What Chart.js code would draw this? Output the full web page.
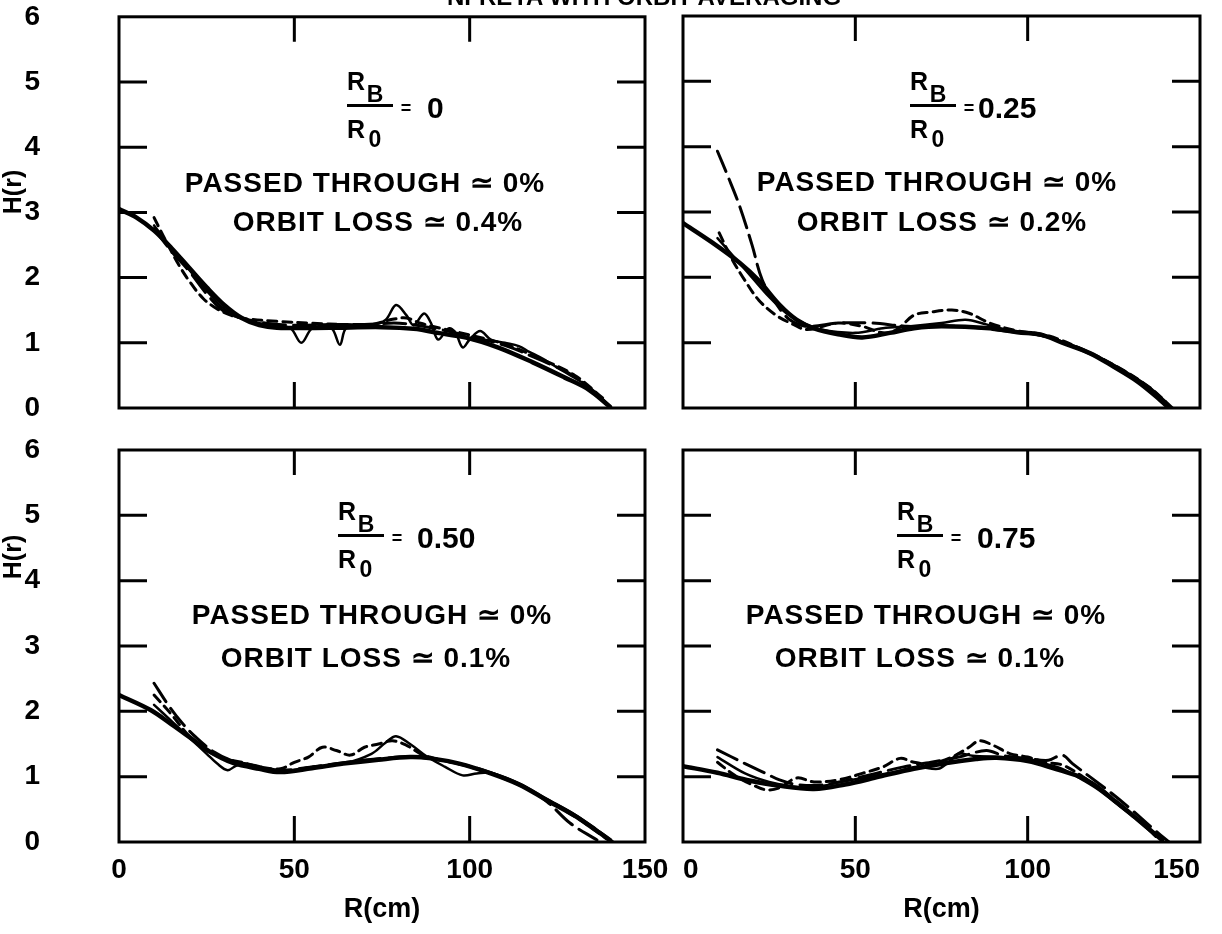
<!DOCTYPE html>
<html>
<head>
<meta charset="utf-8">
<script src="https://cdn.jsdelivr.net/npm/chart.js@4.4.1/dist/chart.umd.min.js"></script>
<style>
  html, body { margin: 0; padding: 0; background: #fff; }
  #page { position: relative; width: 1222px; height: 934px; overflow: hidden; background: #fff; }
  canvas { position: absolute; }
  .t { position: absolute; font-family: "Liberation Sans", Arial, sans-serif; font-weight: bold; color: #000;
       white-space: nowrap; line-height: 1; transform: translate(-50%, -50%); }
  .l { position: absolute; font-family: "Liberation Sans", Arial, sans-serif; font-weight: bold; color: #000;
       white-space: nowrap; line-height: 1; transform: translateY(-50%); }
  .bar { position: absolute; height: 3px; background: #000; }
</style>
</head>
<body>
<div id="page">
  <canvas id="tl" width="670" height="430" style="left:0;top:0"></canvas>
  <canvas id="tr" width="552" height="430" style="left:670px;top:0"></canvas>
  <canvas id="bl" width="670" height="504" style="left:0;top:430px"></canvas>
  <canvas id="br" width="552" height="504" style="left:670px;top:430px"></canvas>
</div>
<script>
// axis ticks
const X_TICKS = [0, 50, 100, 150];
const Y_TICKS = [0, 1, 2, 3, 4, 5, 6];

// R_B/R_0 = 0
const tlThick = [[0,3.05],[5,2.92],[10,2.72],[15,2.45],[20,2.15],[25,1.85],[30,1.58],[35,1.38],[40,1.27],[45,1.23],[60,1.23],[75,1.24],[85,1.21],[90,1.16],[99,1.08],[108,0.93],[118,0.70],[127,0.47],[134,0.28],[140,0.02]];
const tlThin = [[10,2.8],[15,2.45],[20,2.12],[25,1.8],[30,1.52],[35,1.38],[40,1.3],[45,1.27],[49,1.22],[52,1.0],[55,1.22],[59,1.26],[61,1.2],[63,0.97],[65,1.24],[72,1.27],[76,1.35],[79,1.58],[82,1.42],[84,1.27],[87,1.45],[89,1.3],[91,1.05],[94,1.22],[96,1.15],[98,0.93],[100,1.05],[103,1.18],[106,1.05],[110,1.0],[114,0.95],[117,0.86],[120,0.78],[125,0.62],[130,0.46],[135,0.28],[140,0.03]];
const tlDash = [[10,2.92],[13,2.6],[17,2.2],[20,1.95],[24,1.68],[28,1.52],[32,1.42],[36,1.37],[45,1.33],[55,1.3],[65,1.28],[72,1.28],[78,1.36],[82,1.38],[86,1.3],[92,1.22],[100,1.12],[110,0.98],[120,0.76],[130,0.5],[138,0.15]];
const tlLong = [[10,2.75],[15,2.4],[20,2.1],[25,1.75],[30,1.48],[35,1.38],[42,1.3],[50,1.27],[60,1.28],[70,1.28],[80,1.3],[90,1.22],[100,1.1],[110,0.96],[120,0.74],[130,0.48],[138,0.12]];

// R_B/R_0 = 0.25
const trThick = [[0,2.83],[8,2.55],[16.5,2.22],[22,1.95],[28,1.58],[33,1.35],[38,1.22],[45,1.13],[52,1.08],[60,1.15],[67,1.22],[75,1.25],[89,1.22],[97,1.16],[104,1.12],[110,1.0],[118,0.84],[125,0.63],[132,0.4],[138.5,0.12],[141,0]];
const trThin = [[10,2.6],[15,2.3],[20,2.0],[25,1.7],[30,1.45],[35,1.3],[40,1.2],[50,1.15],[58,1.22],[66,1.25],[75,1.3],[82,1.35],[88,1.28],[95,1.18],[102,1.13],[108,1.05],[115,0.92],[125,0.66],[135,0.33],[140,0.1]];
const trDash = [[10.5,2.68],[14,2.3],[18,1.95],[22,1.65],[27,1.42],[32,1.28],[36,1.2],[45,1.3],[52,1.25],[58,1.15],[62,1.2],[67,1.42],[72,1.47],[78,1.5],[83,1.45],[89,1.3],[97,1.18],[105,1.12],[115,0.92],[125,0.66],[135,0.33],[142,0]];
const trLong = [[10,3.93],[13,3.55],[16.5,3.08],[20,2.5],[23,1.96],[27,1.6],[31,1.35],[36,1.25],[45,1.3],[55,1.3],[65,1.25],[80,1.25],[95,1.17],[105,1.1],[115,0.9],[125,0.65],[135,0.32],[141,0.02]];

// R_B/R_0 = 0.50
const blThick = [[0,2.25],[9,2.02],[15,1.8],[20,1.61],[26,1.38],[32.5,1.21],[40,1.12],[46,1.07],[55,1.13],[64,1.2],[74,1.26],[83,1.3],[89,1.28],[97,1.2],[106,1.05],[114,0.88],[122,0.64],[130,0.4],[136,0.18],[140,0.03]];
const blThin = [[10,2.1],[15,1.85],[20,1.6],[25,1.35],[28,1.2],[31,1.1],[34,1.18],[40,1.13],[46,1.08],[55,1.15],[64,1.2],[72,1.35],[76,1.52],[79,1.62],[83,1.5],[88,1.3],[93,1.15],[98,1.02],[102,1.05],[106,1.06],[114,0.9],[122,0.66],[130,0.42],[136,0.2],[141,0]];
const blDash = [[10,2.25],[15,1.95],[20,1.62],[25,1.4],[30,1.28],[35,1.22],[40,1.15],[46,1.12],[50,1.22],[54,1.3],[58,1.45],[62,1.4],[66,1.33],[70,1.45],[74,1.5],[78,1.55],[82,1.48],[86,1.35],[90,1.28],[98,1.18],[106,1.05],[115,0.85],[124,0.58],[132,0.32],[139,0.05]];
const blLong = [[10,2.43],[14,2.1],[18,1.82],[22,1.6],[27,1.38],[32,1.25],[38,1.18],[46,1.1],[55,1.15],[65,1.22],[75,1.28],[85,1.3],[95,1.22],[105,1.08],[115,0.86],[122,0.62],[128.6,0.29],[136.3,0.03]];

// R_B/R_0 = 0.75
const brThick = [[0,1.16],[10,1.06],[18.5,0.95],[28,0.86],[38,0.81],[47,0.88],[57,1.0],[67,1.12],[76.5,1.21],[85,1.27],[91,1.29],[100,1.24],[108,1.12],[115,1.0],[120,0.85],[125,0.64],[130,0.43],[134.5,0.23],[139,0.03]];
const brThin = [[10,1.3],[18,1.05],[25,0.92],[32,0.85],[38,0.84],[46,0.92],[54,1.0],[62,1.08],[68,1.15],[74,1.12],[77,1.22],[80,1.35],[84,1.32],[92,1.3],[100,1.27],[105,1.2],[110,1.12],[115,0.98],[120,0.82],[126,0.58],[132,0.33],[137,0.1]];
const brDash = [[10,1.22],[15,1.02],[20,0.88],[24,0.8],[28,0.83],[33,0.98],[38,0.92],[45,0.95],[52,1.05],[58,1.15],[63,1.28],[67,1.22],[72,1.2],[78,1.3],[83,1.45],[86,1.55],[90,1.48],[95,1.35],[100,1.3],[105,1.22],[110,1.18],[116,1.0],[122,0.78],[128,0.52],[134,0.25],[138,0.04]];
const brLong = [[10,1.41],[18,1.2],[24,1.05],[28,0.95],[33,0.88],[40,0.87],[48,0.95],[56,1.05],[64,1.15],[72,1.22],[80,1.3],[88,1.4],[93,1.32],[100,1.28],[106,1.25],[110,1.33],[113,1.2],[118,1.0],[124,0.76],[130,0.5],[136,0.22],[141,0]];

// panel texts
const ratios = ["0", "0.25", "0.50", "0.75"];
const passed = ["0%", "0%", "0%", "0%"];
const orbitLoss = ["0.4%", "0.2%", "0.1%", "0.1%"];

const FONT = '"Liberation Sans", Arial, sans-serif';
const STYLES = {
  thick: { borderWidth: 4.5, borderDash: [] },
  thin:  { borderWidth: 2.5, borderDash: [] },
  dash:  { borderWidth: 3, borderDash: [9, 6] },
  long:  { borderWidth: 3, borderDash: [22, 8] }
};

// box + inward ticks on all four sides
const frame = {
  id: 'frame',
  afterDatasetsDraw(chart) {
    const { ctx, chartArea: a, scales: { x, y } } = chart;
    ctx.save();
    ctx.strokeStyle = '#000';
    ctx.lineWidth = 3;
    ctx.strokeRect(a.left, a.top, a.right - a.left, a.bottom - a.top);
    ctx.beginPath();
    X_TICKS.slice(1, -1).forEach(v => {
      const px = x.getPixelForValue(v);
      ctx.moveTo(px, a.top); ctx.lineTo(px, a.top + 25);
      ctx.moveTo(px, a.bottom); ctx.lineTo(px, a.bottom - 26);
    });
    Y_TICKS.slice(1, -1).forEach(v => {
      const py = y.getPixelForValue(v);
      ctx.moveTo(a.left, py); ctx.lineTo(a.left + 28, py);
      ctx.moveTo(a.right, py); ctx.lineTo(a.right - 28, py);
    });
    ctx.stroke();
    ctx.restore();
  }
};

function makeChart(id, series, o) {
  const datasets = series.map(([pts, style]) => ({
    data: pts.map(([x, y]) => ({ x, y })),
    borderColor: '#000',
    pointRadius: 0,
    fill: false,
    tension: 0.35,
    borderCapStyle: 'round',
    ...STYLES[style]
  }));
  return new Chart(document.getElementById(id), {
    type: 'line',
    data: { datasets },
    options: {
      responsive: false,
      animation: false,
      events: [],
      layout: { padding: o.padding },
      plugins: { legend: { display: false }, tooltip: { enabled: false } },
      scales: {
        x: {
          type: 'linear', min: 0, max: 150,
          // tick marks are not drawn (grid off), tickLength only spaces the labels
          grid: { display: false, drawTicks: o.xLabels, tickLength: 11 },
          border: { display: false },
          afterBuildTicks: s => { s.ticks = X_TICKS.map(value => ({ value })); },
          ticks: { display: o.xLabels, color: '#000', padding: 0, align: o.xAlign, maxRotation: 0, autoSkip: false,
                   font: { family: FONT, size: 28, weight: 'bold' } },
          title: { display: o.xLabels, text: 'R(cm)', color: '#000', padding: { top: 4, bottom: 8 },
                   font: { family: FONT, size: 27, weight: 'bold' } },
          afterFit: s => { s.height = o.xHeight; }
        },
        y: {
          min: 0, max: 6,
          grid: { display: false, drawTicks: o.yLabels, tickLength: 79 },
          border: { display: false },
          afterBuildTicks: s => { s.ticks = Y_TICKS.map(value => ({ value })); },
          ticks: { display: o.yLabels, color: '#000', padding: 0,
                   font: { family: FONT, size: 28, weight: 'bold' } },
          afterFit: s => { s.width = o.yWidth; }
        }
      }
    },
    plugins: [frame]
  });
}

makeChart('tl', [[tlLong, 'long'], [tlDash, 'dash'], [tlThin, 'thin'], [tlThick, 'thick']],
  { padding: { top: 16, bottom: 22, left: 0, right: 25 }, xLabels: false, xHeight: 0, yLabels: true, yWidth: 119, xAlign: 'center' });
makeChart('tr', [[trLong, 'long'], [trDash, 'dash'], [trThin, 'thin'], [trThick, 'thick']],
  { padding: { top: 16, bottom: 22, left: 13, right: 22 }, xLabels: false, xHeight: 0, yLabels: false, yWidth: 0, xAlign: 'inner' });
makeChart('bl', [[blLong, 'long'], [blDash, 'dash'], [blThin, 'thin'], [blThick, 'thick']],
  { padding: { top: 20, bottom: 0, left: 0, right: 25 }, xLabels: true, xHeight: 92, yLabels: true, yWidth: 119, xAlign: 'center' });
makeChart('br', [[brLong, 'long'], [brDash, 'dash'], [brThin, 'thin'], [brThick, 'thick']],
  { padding: { top: 20, bottom: 0, left: 13, right: 22 }, xLabels: true, xHeight: 92, yLabels: false, yWidth: 0, xAlign: 'inner' });

// annotations (HTML text)
const page = document.getElementById('page');
function txt(cls, text, x, y, size, extra) {
  const d = document.createElement('div');
  d.className = cls;
  d.textContent = text;
  d.style.left = x + 'px';
  d.style.top = y + 'px';
  d.style.fontSize = size + 'px';
  if (extra) Object.assign(d.style, extra);
  page.appendChild(d);
  return d;
}
// title, cut at the top edge like the scan
txt('t', 'NFREYA WITH ORBIT AVERAGING', 644, -3, 24, {});
// y axis titles
txt('t', 'H(r)', 12, 192, 25, { transform: 'translate(-50%,-50%) rotate(-90deg)' });
txt('t', 'H(r)', 12, 557, 25, { transform: 'translate(-50%,-50%) rotate(-90deg)' });

// fraction anchors: left end of the fraction bar, value offset, text line centres
const anchors = [
  { lx: 347, ly: 105, vx: 80, px: 365, py: 183, ox: 378, oy: 222 },
  { lx: 910, ly: 105, vx: 68, px: 937, py: 182, ox: 942, oy: 222 },
  { lx: 338, ly: 535, vx: 79, px: 372, py: 615, ox: 366, oy: 658 },
  { lx: 897, ly: 535, vx: 80, px: 926, py: 615, ox: 920, oy: 658 }
];
anchors.forEach((a, i) => {
  txt('t', 'R', a.lx + 9, a.ly - 24, 25);
  txt('t', 'B', a.lx + 28, a.ly - 11, 23);
  const bar = document.createElement('div');
  bar.className = 'bar';
  bar.style.left = a.lx + 'px';
  bar.style.top = (a.ly - 1) + 'px';
  bar.style.width = '46px';
  page.appendChild(bar);
  txt('t', 'R', a.lx + 9, a.ly + 24, 25);
  txt('t', '0', a.lx + 28, a.ly + 34, 23);
  txt('t', '=', a.lx + 59, a.ly + 3, 18);
  txt('l', ratios[i], a.lx + a.vx, a.ly + 3, 30);
  txt('t', 'PASSED THROUGH \u2243 ' + passed[i], a.px, a.py, 28, { letterSpacing: '1px' });
  txt('t', 'ORBIT LOSS \u2243 ' + orbitLoss[i], a.ox, a.oy, 28, { letterSpacing: '1px' });
});
</script>
</body>
</html>
